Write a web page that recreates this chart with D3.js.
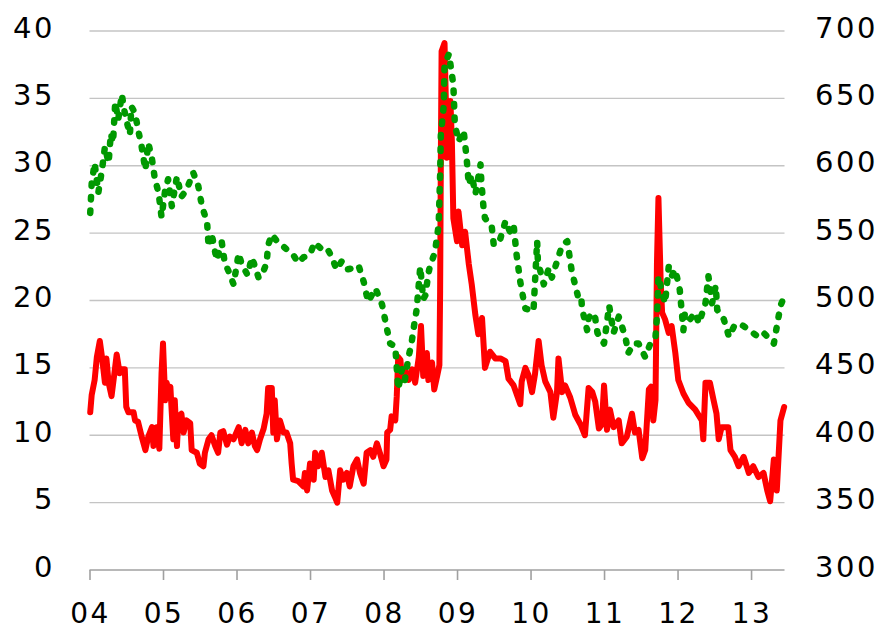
<!DOCTYPE html>
<html>
<head>
<meta charset="utf-8">
<script src="https://cdn.jsdelivr.net/npm/d3@7"></script>
<style>
  html, body { margin: 0; padding: 0; background: #ffffff; }
  svg { display: block; }
  .lbl { font-family: "DejaVu Sans", sans-serif; font-size: 29px; fill: #000; letter-spacing: 2.5px; }
  .lbl.x { font-size: 28px; }
</style>
</head>
<body>
<svg id="chart" width="885" height="630"></svg>
<script>
// Year tick labels (two-digit) and their positions in decimal years
const yearTicks = [2004, 2005, 2006, 2007, 2008, 2009, 2010, 2011, 2012, 2013];
const yearLabels = ["04", "05", "06", "07", "08", "09", "10", "11", "12", "13"];
const leftTicks = [0, 5, 10, 15, 20, 25, 30, 35, 40];
const rightTicks = [300, 350, 400, 450, 500, 550, 600, 650, 700];

// Red series (left axis): time in decimal years, value
const redT = [
  2004.01, 2004.03, 2004.07, 2004.10, 2004.14, 2004.17, 2004.21, 2004.23, 2004.26, 2004.30,
  2004.35, 2004.37, 2004.41, 2004.44, 2004.48, 2004.50, 2004.53, 2004.60, 2004.62, 2004.66,
  2004.71, 2004.76, 2004.80, 2004.85, 2004.87, 2004.91, 2004.95, 2004.98, 2005.00, 2005.03,
  2005.05, 2005.07, 2005.10, 2005.12, 2005.14, 2005.16, 2005.19, 2005.21, 2005.25, 2005.28,
  2005.32, 2005.37, 2005.39, 2005.46, 2005.50, 2005.55, 2005.57, 2005.62, 2005.66, 2005.71,
  2005.75, 2005.78, 2005.82, 2005.87, 2005.91, 2005.96, 2006.03, 2006.07, 2006.12, 2006.16,
  2006.21, 2006.25, 2006.28, 2006.32, 2006.37, 2006.41, 2006.43, 2006.48, 2006.50, 2006.52,
  2006.55, 2006.59, 2006.64, 2006.68, 2006.73, 2006.75, 2006.77, 2006.84, 2006.91, 2006.93,
  2006.96, 2007.00, 2007.05, 2007.07, 2007.11, 2007.16, 2007.21, 2007.25, 2007.30, 2007.34,
  2007.37, 2007.41, 2007.45, 2007.50, 2007.54, 2007.59, 2007.64, 2007.68, 2007.73, 2007.77,
  2007.82, 2007.86, 2007.91, 2007.95, 2008.00, 2008.04, 2008.05, 2008.09, 2008.11, 2008.16,
  2008.18, 2008.20, 2008.23, 2008.25, 2008.29, 2008.34, 2008.39, 2008.43, 2008.48, 2008.51,
  2008.54, 2008.59, 2008.61, 2008.66, 2008.69, 2008.73, 2008.76, 2008.77, 2008.78, 2008.79,
  2008.83, 2008.85, 2008.86, 2008.88, 2008.91, 2008.93, 2008.95, 2009.00, 2009.02, 2009.07,
  2009.11, 2009.16, 2009.20, 2009.25, 2009.29, 2009.34, 2009.38, 2009.45, 2009.52, 2009.59,
  2009.66, 2009.70, 2009.77, 2009.86, 2009.88, 2009.93, 2009.97, 2010.02, 2010.06, 2010.11,
  2010.15, 2010.20, 2010.27, 2010.31, 2010.36, 2010.38, 2010.43, 2010.47, 2010.54, 2010.61,
  2010.68, 2010.74, 2010.79, 2010.84, 2010.88, 2010.93, 2010.97, 2011.00, 2011.04, 2011.08,
  2011.13, 2011.20, 2011.24, 2011.31, 2011.38, 2011.42, 2011.47, 2011.52, 2011.56, 2011.61,
  2011.64, 2011.67, 2011.70, 2011.72, 2011.74, 2011.77, 2011.79, 2011.83, 2011.88, 2011.92,
  2011.97, 2012.01, 2012.08, 2012.15, 2012.24, 2012.33, 2012.35, 2012.38, 2012.44, 2012.49,
  2012.53, 2012.56, 2012.60, 2012.69, 2012.72, 2012.78, 2012.83, 2012.90, 2012.97, 2013.03,
  2013.10, 2013.17, 2013.22, 2013.26, 2013.31, 2013.35, 2013.40, 2013.45
];
const redV = [
  11.7, 13.0, 14.1, 15.8, 17.0, 15.8, 13.9, 15.7, 13.9, 12.9,
  15.1, 16.0, 14.6, 14.9, 14.9, 12.1, 11.7, 11.7, 11.1, 11.0,
  9.9, 8.9, 9.9, 10.6, 9.2, 10.6, 9.0, 14.6, 16.8, 12.6,
  13.9, 13.1, 13.6, 11.6, 9.7, 12.6, 9.2, 11.4, 11.6, 10.2,
  11.1, 10.9, 8.9, 8.7, 7.9, 7.7, 8.7, 9.7, 10.0, 9.2,
  8.7, 10.2, 10.3, 9.3, 9.9, 9.7, 10.6, 9.4, 10.4, 9.4,
  10.2, 9.2, 8.9, 9.7, 10.5, 11.6, 13.5, 13.5, 10.2, 12.6,
  9.7, 11.1, 10.2, 10.2, 9.4, 7.9, 6.7, 6.6, 6.2, 7.2,
  5.9, 7.9, 6.7, 8.7, 7.7, 8.7, 6.9, 7.4, 5.9, 5.4,
  5.0, 7.4, 6.7, 7.2, 6.2, 7.7, 8.2, 7.2, 6.4, 8.7,
  8.9, 8.4, 9.4, 8.7, 7.7, 8.2, 10.2, 10.4, 11.4, 11.1,
  12.9, 15.8, 15.6, 14.1, 14.9, 14.1, 14.9, 13.9, 15.8, 18.1,
  14.4, 16.1, 14.1, 15.4, 13.4, 14.4, 15.2, 20.7, 30.6, 38.5,
  39.1, 34.3, 30.6, 33.1, 34.8, 31.8, 26.1, 24.4, 26.6, 24.1,
  25.1, 22.7, 21.2, 18.9, 17.5, 18.7, 15.0, 16.2, 15.7, 15.7,
  15.5, 14.2, 13.7, 12.3, 14.0, 15.0, 14.5, 13.2, 14.5, 17.0,
  15.2, 14.0, 13.2, 11.3, 13.2, 15.7, 13.2, 13.7, 12.8, 11.5,
  10.8, 10.0, 13.5, 13.2, 12.5, 10.5, 10.8, 13.7, 10.4, 11.9,
  10.6, 11.1, 9.4, 9.9, 11.6, 10.2, 10.4, 8.3, 8.9, 13.4,
  13.6, 11.1, 12.6, 22.8, 27.6, 21.5, 19.1, 18.6, 17.6, 18.1,
  16.1, 14.1, 13.1, 12.4, 11.9, 11.1, 9.7, 13.9, 13.9, 12.6,
  11.6, 9.7, 10.6, 10.6, 8.9, 8.4, 7.7, 8.4, 7.2, 7.7,
  6.9, 7.2, 5.9, 5.1, 8.2, 5.9, 11.1, 12.1
];

// Green series (right axis): time in decimal years, value
const greenT = [
  2004.01, 2004.03, 2004.07, 2004.12, 2004.17, 2004.21, 2004.26, 2004.29, 2004.32, 2004.35,
  2004.39, 2004.44, 2004.47, 2004.51, 2004.55, 2004.57, 2004.62, 2004.66, 2004.71, 2004.76,
  2004.80, 2004.85, 2004.89, 2004.94, 2004.98, 2005.03, 2005.07, 2005.12, 2005.19, 2005.25,
  2005.32, 2005.41, 2005.48, 2005.53, 2005.60, 2005.62, 2005.66, 2005.73, 2005.80, 2005.84,
  2005.89, 2005.96, 2006.03, 2006.07, 2006.15, 2006.21, 2006.30, 2006.34, 2006.41, 2006.43,
  2006.48, 2006.55, 2006.62, 2006.68, 2006.77, 2006.84, 2006.91, 2007.00, 2007.06, 2007.16,
  2007.23, 2007.30, 2007.36, 2007.43, 2007.50, 2007.59, 2007.66, 2007.73, 2007.79, 2007.89,
  2007.98, 2008.05, 2008.09, 2008.16, 2008.20, 2008.25, 2008.29, 2008.34, 2008.38, 2008.42,
  2008.45, 2008.50, 2008.54, 2008.57, 2008.61, 2008.63, 2008.70, 2008.75, 2008.77, 2008.78,
  2008.82, 2008.83, 2008.89, 2008.95, 2008.97, 2009.02, 2009.09, 2009.13, 2009.16, 2009.20,
  2009.25, 2009.32, 2009.33, 2009.36, 2009.38, 2009.47, 2009.50, 2009.59, 2009.66, 2009.72,
  2009.77, 2009.81, 2009.86, 2009.90, 2009.93, 2010.04, 2010.09, 2010.10, 2010.18, 2010.25,
  2010.29, 2010.36, 2010.43, 2010.50, 2010.56, 2010.65, 2010.69, 2010.70, 2010.77, 2010.79,
  2010.84, 2010.88, 2010.91, 2010.95, 2011.00, 2011.07, 2011.13, 2011.20, 2011.29, 2011.33,
  2011.40, 2011.47, 2011.56, 2011.63, 2011.70, 2011.72, 2011.74, 2011.79, 2011.83, 2011.88,
  2011.92, 2011.97, 2012.01, 2012.03, 2012.08, 2012.10, 2012.17, 2012.24, 2012.29, 2012.38,
  2012.42, 2012.47, 2012.52, 2012.54, 2012.63, 2012.70, 2012.77, 2012.83, 2012.90, 2013.10,
  2013.17, 2013.26, 2013.31, 2013.40, 2013.45
];
const greenV = [
  565, 587, 602, 580, 597, 614, 602, 624, 617, 647,
  634, 653, 642, 632, 623, 644, 639, 627, 614, 597,
  617, 605, 590, 580, 562, 582, 590, 570, 592, 577,
  582, 595, 585, 570, 558, 540, 550, 530, 543, 528,
  522, 512, 535, 527, 519, 532, 517, 518, 528, 541,
  549, 544, 541, 538, 534, 528, 532, 534, 543, 538,
  539, 532, 523, 529, 523, 524, 526, 514, 499, 509,
  497, 478, 468, 466, 434, 449, 441, 458, 468, 483,
  493, 525, 501, 504, 520, 525, 536, 556, 593, 623,
  645, 675, 683, 660, 631, 618, 626, 606, 586, 593,
  579, 601, 589, 569, 561, 556, 541, 546, 559, 551,
  556, 534, 514, 502, 494, 492, 544, 529, 512, 524,
  517, 529, 541, 544, 522, 502, 503, 494, 478, 487,
  491, 487, 476, 472, 468, 496, 476, 488, 473, 461,
  468, 468, 458, 468, 473, 488, 518, 506, 498, 525,
  518, 523, 513, 508, 478, 491, 486, 491, 483, 498,
  518, 498, 511, 493, 486, 473, 481, 483, 481, 473,
  476, 471, 468, 496, 503
];

const svg = d3.select("#chart");
const plot = { left: 89.5, right: 784.5, top: 31, bottom: 570 };

const x = d3.scaleLinear().domain([2004, 2013.455]).range([plot.left, plot.right]);
const yL = d3.scaleLinear().domain([0, 40]).range([plot.bottom, plot.top]);
const yR = d3.scaleLinear().domain([300, 700]).range([plot.bottom, plot.top]);

// Horizontal gridlines
svg.append("g")
  .selectAll("line")
  .data(leftTicks.filter(d => d > 0))
  .join("line")
  .attr("x1", plot.left).attr("x2", plot.right)
  .attr("y1", d => yL(d)).attr("y2", d => yL(d))
  .attr("stroke", "#c4c4c4").attr("stroke-width", 1.4);

// Bottom axis with downward ticks
const xAxis = d3.axisBottom(x)
  .tickValues(yearTicks)
  .tickSize(10)
  .tickFormat("");
const gx = svg.append("g").attr("transform", `translate(0,${plot.bottom})`).call(xAxis);
gx.select(".domain").attr("stroke", "#a0a0a0").attr("stroke-width", 1.6).attr("d", `M${plot.left},0H${plot.right}`);
gx.selectAll(".tick line").attr("stroke", "#a0a0a0").attr("stroke-width", 1.6);

// Year labels
svg.append("g")
  .selectAll("text")
  .data(yearTicks)
  .join("text")
  .attr("class", "lbl x")
  .attr("x", d => x(d) + 1)
  .attr("y", 623)
  .attr("text-anchor", "middle")
  .text((d, i) => yearLabels[i]);

// Left axis labels
svg.append("g")
  .selectAll("text")
  .data(leftTicks)
  .join("text")
  .attr("class", "lbl")
  .attr("x", 55)
  .attr("y", d => yL(d) + 6.5)
  .attr("text-anchor", "end")
  .text(d => d);

// Right axis labels
svg.append("g")
  .selectAll("text")
  .data(rightTicks)
  .join("text")
  .attr("class", "lbl")
  .attr("x", 815)
  .attr("y", d => yR(d) + 6.5)
  .attr("text-anchor", "start")
  .text(d => d);

// Red series
const redData = redT.map((t, i) => [t, redV[i]]);
svg.append("path")
  .datum(redData)
  .attr("fill", "none")
  .attr("stroke", "#ff0000")
  .attr("stroke-width", 6)
  .attr("stroke-linejoin", "round")
  .attr("stroke-linecap", "round")
  .attr("d", d3.line().x(d => x(d[0])).y(d => yL(d[1])));

// Green series, dashed, on the right axis
const greenData = greenT.map((t, i) => [t, greenV[i]]);
svg.append("path")
  .datum(greenData)
  .attr("fill", "none")
  .attr("stroke", "#009900")
  .attr("stroke-width", 6.5)
  .attr("stroke-linejoin", "round")
  .attr("stroke-linecap", "round")
  .attr("stroke-dasharray", "2.5,11")
  .attr("d", d3.line().x(d => x(d[0])).y(d => yR(d[1])));
</script>
</body>
</html>
